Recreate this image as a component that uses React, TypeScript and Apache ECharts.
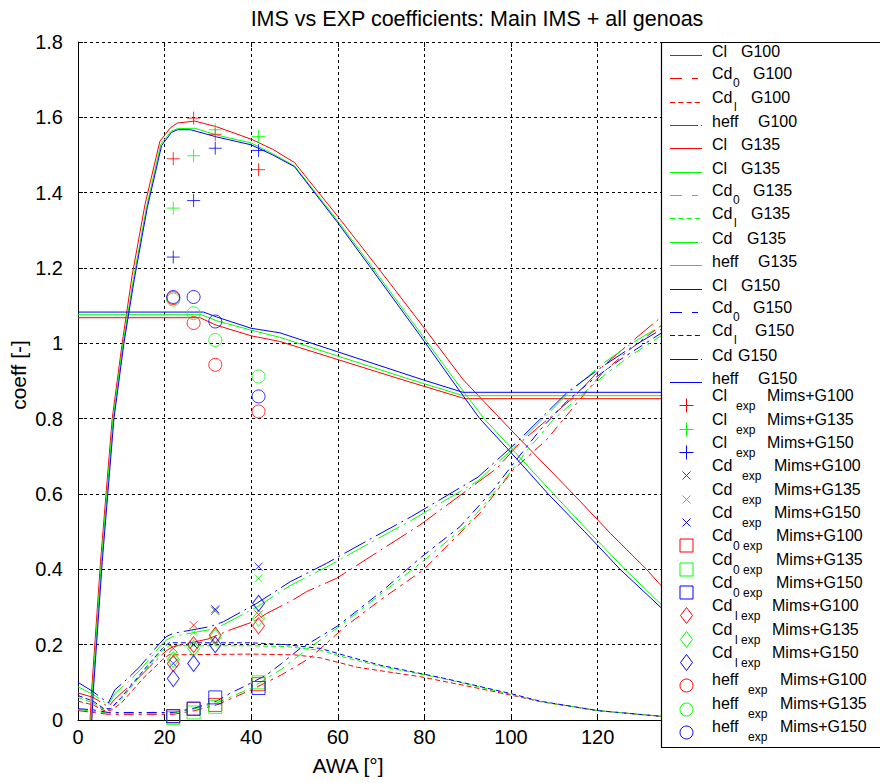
import React, { useEffect, useRef } from "react";
import * as echarts from "echarts";

type P = [number, number][];

const RED = "#ff0000";
const GREEN = "#00ff00";
const BLUE = "#0000ff";
const FONT = '"Liberation Sans", Arial, Helvetica, sans-serif';

const TITLE = "IMS vs EXP coefficients: Main IMS + all genoas";
const X_NAME = "AWA [°]";
const Y_NAME = "coeff [-]";
const xTicks = [0, 20, 40, 60, 80, 100, 120, 140, 160, 180];
const xVisibleMax = 120; // labels beyond this lie under the legend box
const yTicks = [0, 0.2, 0.4, 0.6, 0.8, 1, 1.2, 1.4, 1.6, 1.8];

// ---- IMS model curves ----
const clG100: P = [[2.8,0],[3.1,0.07],[5.2,0.42],[7.9,0.8],[10.2,1.0],[12.5,1.18],[15.5,1.37],[18.9,1.536],[21.3,1.572],[23,1.585],[27,1.59],[32,1.575],[40,1.542],[45,1.515],[50,1.48],[60,1.337],[70,1.19],[80,1.04],[89,0.903],[100,0.77],[115.2,0.59],[123,0.495],[131.3,0.4],[134.4,0.36],[142,0.27]];
const clG135: P = [[3.0,0],[3.3,0.07],[5.4,0.42],[8.1,0.8],[10.4,1.0],[12.8,1.17],[15.8,1.36],[19.1,1.528],[21.5,1.563],[23,1.57],[27,1.571],[32,1.553],[40,1.532],[45,1.503],[50,1.471],[60,1.325],[70,1.17],[80,1.013],[87,0.903],[93.8,0.8],[101,0.71],[109.8,0.6],[118,0.5],[126.3,0.4],[134.4,0.31],[142,0.235]];
const clG150: P = [[3.2,0],[3.5,0.07],[5.6,0.42],[8.3,0.8],[10.6,1.0],[13,1.17],[16,1.36],[19.3,1.525],[21.6,1.56],[23,1.567],[26,1.567],[32,1.548],[40,1.527],[45,1.5],[50,1.469],[60,1.32],[70,1.163],[80,1.005],[86.3,0.903],[92.8,0.8],[100,0.71],[108.6,0.6],[117,0.5],[125.2,0.4],[134.4,0.301],[142,0.225]];

const heffG100: P = [[0,1.068],[28.2,1.068],[32,1.048],[40,1.02],[46.6,1.005],[75,0.903],[89.4,0.853],[142,0.853]];
const heffG135: P = [[0,1.076],[28.5,1.076],[32,1.06],[40,1.035],[46.6,1.016],[77,0.903],[89,0.861],[142,0.861]];
const heffG150: P = [[0,1.083],[29,1.083],[32,1.07],[40,1.04],[46.6,1.028],[79.7,0.903],[88.9,0.87],[142,0.87]];

const cd0G100: P = [[0,0.025],[7,0.015],[22,0.015],[27,0.025],[32,0.04],[40,0.08],[47,0.12],[53.6,0.165],[61.7,0.248],[70,0.32],[79.7,0.398],[92.8,0.549],[100.5,0.664],[108.2,0.744],[115.2,0.841],[121,0.92],[127,0.98],[134.4,1.045],[142,1.1]];
const cd0G135: P = [[0,0.028],[7,0.018],[22,0.018],[27,0.03],[32,0.045],[40,0.085],[47,0.135],[52,0.18],[60,0.245],[70,0.335],[79.5,0.42],[90,0.52],[98,0.63],[104,0.72],[110,0.8],[116,0.86],[122,0.92],[128,0.97],[134.4,1.018],[142,1.07]];
const cd0G150: P = [[0,0.03],[3.5,0.027],[7,0.02],[22,0.02],[27,0.032],[32,0.05],[35,0.07],[38.2,0.088],[43.6,0.12],[47,0.15],[51.3,0.19],[55,0.215],[60,0.25],[65,0.295],[70.5,0.345],[79,0.43],[88.2,0.513],[95.9,0.611],[100.5,0.68],[106.7,0.77],[112.8,0.845],[119,0.905],[125,0.955],[129,0.985],[134.4,1.025],[142,1.075]];

const cdlG100: P = [[0,0.05],[3.5,0.04],[6,0.025],[7.5,0.025],[10,0.045],[15,0.11],[19.5,0.16],[21,0.173],[40,0.175],[50,0.173],[56,0.165],[64.5,0.14],[79,0.115],[90,0.09],[100,0.066],[106.7,0.049],[120,0.025],[134.4,0.01],[142,0.005]];
const cdlG135: P = [[0,0.06],[3.5,0.045],[6,0.028],[7.5,0.028],[10,0.055],[15,0.125],[19.5,0.185],[21,0.197],[40,0.197],[48,0.195],[56,0.185],[62,0.165],[70,0.142],[84.4,0.11],[100,0.068],[106.7,0.049],[120,0.025],[134.4,0.01],[142,0.005]];
const cdlG150: P = [[0,0.065],[3.5,0.05],[6,0.03],[7.5,0.03],[10,0.06],[15,0.13],[19.5,0.19],[21,0.205],[40,0.205],[48,0.2],[56,0.19],[62,0.17],[70,0.145],[84.4,0.111],[100,0.07],[106.7,0.05],[120,0.025],[134.4,0.01],[142,0.005]];

const cdG100: P = [[0,0.072],[3.5,0.06],[7,0.035],[8.5,0.055],[11.6,0.088],[14.3,0.115],[16.6,0.142],[18.9,0.168],[20.5,0.185],[22,0.195],[30,0.215],[35.1,0.239],[40.5,0.261],[43.6,0.283],[49.7,0.319],[52.8,0.341],[59.7,0.376],[79,0.518],[96.7,0.668],[102,0.735],[114.8,0.86],[121.3,0.94],[127.9,1.005],[134.4,1.067],[142,1.13]];
const cdG135: P = [[0,0.088],[3.5,0.068],[7,0.04],[8.5,0.07],[11.5,0.1],[14.3,0.132],[18.9,0.195],[20.5,0.213],[22,0.222],[30.5,0.24],[33.6,0.253],[41.3,0.3],[49,0.357],[57.4,0.406],[68.2,0.475],[77,0.53],[92.4,0.635],[101.3,0.73],[113,0.865],[121.3,0.947],[127.9,1.0],[134.4,1.045],[142,1.09]];
const cdG150: P = [[0,0.1],[3.5,0.075],[7,0.045],[8.5,0.08],[11.5,0.11],[14.3,0.142],[18.9,0.204],[20.5,0.222],[22,0.23],[30.5,0.248],[33.6,0.261],[41.3,0.31],[49,0.367],[57.4,0.416],[68.2,0.485],[77,0.54],[92.4,0.645],[101.3,0.737],[113,0.87],[121.3,0.94],[127.9,0.99],[134.4,1.035],[142,1.08]];

// ---- experimental points ----
const expAwa = [22.0, 26.7, 31.7, 41.7];
const clExpG100 = [1.49, 1.598, 1.555, 1.461];
const clExpG135 = [1.359, 1.498, 1.567, 1.549];
const clExpG150 = [1.229, 1.379, 1.518, 1.512];
const cdExpG100 = [0.19, 0.252, 0.29, 0.28];
const cdExpG135 = [0.17, 0.233, 0.29, 0.376];
const cdExpG150 = [0.15, 0.2, 0.294, 0.407];
const cd0ExpG100 = [0.01, 0.03, 0.04, 0.095];
const cd0ExpG135 = [0.005, 0.02, 0.035, 0.1];
const cd0ExpG150 = [0.01, 0.03, 0.06, 0.085];
const cdlExpG100 = [0.15, 0.2, 0.225, 0.25];
const cdlExpG135 = [0.16, 0.19, 0.22, 0.27];
const cdlExpG150 = [0.11, 0.15, 0.2, 0.31];
const heffExpG100 = [1.12, 1.054, 0.943, 0.819];
const heffExpG135 = [1.116, 1.08, 1.009, 0.912];
const heffExpG150 = [1.123, 1.123, 1.058, 0.859];

// line dash styles
const DASH_CD0 = [10, 5, 3, 5];
const DASH_CDL = [5, 3];
const DASH_CD = [24, 5, 2, 5];

const PLUS = "path://M6,0L6,12M0,6L12,6";
const CROSS = "path://M0,0L8,8M8,0L0,8";

function lineS(name: string, data: P, color: string, dash: any) {
  return {
    type: "line",
    name,
    data,
    symbol: "none",
    showSymbol: false,
    silent: true,
    lineStyle: { color, width: 1, type: dash },
    itemStyle: { color },
    z: 2,
  };
}

function scat(name: string, vals: number[], color: string, symbol: string, size: any) {
  return {
    type: "scatter",
    name,
    data: expAwa.map((x, i) => [x, vals[i]]),
    symbol,
    symbolSize: size,
    silent: true,
    itemStyle: { color: "rgba(0,0,0,0)", borderColor: color, borderWidth: 1 },
    z: 3,
  };
}

type LegLine = { main: string; sub: string; subX: number; tail: string; tailX: number; color: string; dash: any };
const legendLines: LegLine[] = [
  { main: "Cl", sub: "", subX: 0, tail: "G100", tailX: 741, color: RED, dash: null },
  { main: "Cd", sub: "0", subX: 733, tail: "G100", tailX: 753, color: RED, dash: [12, 10, 6, 10] },
  { main: "Cd", sub: "l", subX: 734, tail: "G100", tailX: 751, color: RED, dash: [5, 3.3] },
  { main: "heff", sub: "", subX: 0, tail: "G100", tailX: 758, color: RED, dash: [28, 3, 1.5, 3] },
  { main: "Cl", sub: "", subX: 0, tail: "G135", tailX: 741, color: RED, dash: null },
  { main: "Cl", sub: "", subX: 0, tail: "G135", tailX: 741, color: GREEN, dash: null },
  { main: "Cd", sub: "0", subX: 733, tail: "G135", tailX: 753, color: GREEN, dash: [12, 10, 6, 10] },
  { main: "Cd", sub: "l", subX: 734, tail: "G135", tailX: 751, color: GREEN, dash: [5, 3.3] },
  { main: "Cd", sub: "", subX: 0, tail: "G135", tailX: 747, color: GREEN, dash: [28, 3, 1.5, 3] },
  { main: "heff", sub: "", subX: 0, tail: "G135", tailX: 758, color: GREEN, dash: null },
  { main: "Cl", sub: "", subX: 0, tail: "G150", tailX: 741, color: BLUE, dash: null },
  { main: "Cd", sub: "0", subX: 733, tail: "G150", tailX: 753, color: BLUE, dash: [12, 10, 6, 10] },
  { main: "Cd", sub: "l", subX: 734, tail: "G150", tailX: 755, color: BLUE, dash: [5, 3.3] },
  { main: "Cd", sub: "", subX: 0, tail: "G150", tailX: 738, color: BLUE, dash: [28, 3, 1.5, 3] },
  { main: "heff", sub: "", subX: 0, tail: "G150", tailX: 758, color: BLUE, dash: null },
];

type LegMark = { main: string; sub: string; subX: number; tail: string; tailX: number; color: string; mark: string };
const legendMarks: LegMark[] = [
  { main: "Cl", sub: "exp", subX: 736, tail: "Mims+G100", tailX: 767, color: RED, mark: "plus" },
  { main: "Cl", sub: "exp", subX: 736, tail: "Mims+G135", tailX: 767, color: GREEN, mark: "plus" },
  { main: "Cl", sub: "exp", subX: 736, tail: "Mims+G150", tailX: 767, color: BLUE, mark: "plus" },
  { main: "Cd", sub: "exp", subX: 742, tail: "Mims+G100", tailX: 774, color: RED, mark: "cross" },
  { main: "Cd", sub: "exp", subX: 742, tail: "Mims+G135", tailX: 774, color: GREEN, mark: "cross" },
  { main: "Cd", sub: "exp", subX: 742, tail: "Mims+G150", tailX: 774, color: BLUE, mark: "cross" },
  { main: "Cd", sub: "0 exp", subX: 733, tail: "Mims+G100", tailX: 776, color: RED, mark: "square" },
  { main: "Cd", sub: "0 exp", subX: 733, tail: "Mims+G135", tailX: 776, color: GREEN, mark: "square" },
  { main: "Cd", sub: "0 exp", subX: 733, tail: "Mims+G150", tailX: 776, color: BLUE, mark: "square" },
  { main: "Cd", sub: "l exp", subX: 735, tail: "Mims+G100", tailX: 772, color: RED, mark: "diamond" },
  { main: "Cd", sub: "l exp", subX: 735, tail: "Mims+G135", tailX: 772, color: GREEN, mark: "diamond" },
  { main: "Cd", sub: "l exp", subX: 735, tail: "Mims+G150", tailX: 772, color: BLUE, mark: "diamond" },
  { main: "heff", sub: "exp", subX: 748, tail: "Mims+G100", tailX: 780, color: RED, mark: "circle" },
  { main: "heff", sub: "exp", subX: 748, tail: "Mims+G135", tailX: 780, color: GREEN, mark: "circle" },
  { main: "heff", sub: "exp", subX: 748, tail: "Mims+G150", tailX: 780, color: BLUE, mark: "circle" },
];

function txt(text: string, x: number, y: number, size: number, align = "left") {
  return {
    type: "text",
    z: 101,
    silent: true,
    style: { text, x, y, fill: "#000", font: `${size}px ${FONT}`, align, verticalAlign: "middle" },
  };
}

function buildLegend() {
  const els: any[] = [];
  els.push({
    type: "rect",
    z: 100,
    silent: true,
    shape: { x: 661.5, y: 42.5, width: 240, height: 705 },
    style: { fill: "#fff", stroke: "#000", lineWidth: 1.2 },
  });
  const ROW0 = 55;
  const DY = 23.35;
  legendLines.forEach((e, i) => {
    const y = Math.round(ROW0 + i * DY) + 0.5;
    els.push({
      type: "line",
      z: 101,
      silent: true,
      shape: { x1: 670, y1: y, x2: 702, y2: y },
      style: { stroke: e.color, lineWidth: 1, lineDash: e.dash || undefined },
    });
    const off = e.sub ? -5 : -4;
    els.push(txt(e.main, 712, y + off, 16));
    if (e.sub) els.push(txt(e.sub, e.subX, y + 4, 12));
    els.push(txt(e.tail, e.tailX, y + off, 16));
  });
  legendMarks.forEach((e, j) => {
    const i = j + legendLines.length;
    const y = Math.round(ROW0 + i * DY) + 0.5;
    const cx = 686.5;
    const st = { stroke: e.color, lineWidth: 1, fill: "none" };
    if (e.mark === "plus") {
      els.push({ type: "line", z: 101, silent: true, shape: { x1: cx - 7, y1: y, x2: cx + 7, y2: y }, style: st });
      els.push({ type: "line", z: 101, silent: true, shape: { x1: cx, y1: y - 7, x2: cx, y2: y + 7 }, style: st });
    } else if (e.mark === "cross") {
      els.push({ type: "line", z: 101, silent: true, shape: { x1: cx - 4, y1: y - 4, x2: cx + 4, y2: y + 4 }, style: st });
      els.push({ type: "line", z: 101, silent: true, shape: { x1: cx - 4, y1: y + 4, x2: cx + 4, y2: y - 4 }, style: st });
    } else if (e.mark === "square") {
      els.push({ type: "rect", z: 101, silent: true, shape: { x: cx - 6.5, y: y - 6.5, width: 13, height: 13 }, style: st });
    } else if (e.mark === "diamond") {
      els.push({ type: "polygon", z: 101, silent: true, shape: { points: [[cx, y - 8], [cx + 6, y], [cx, y + 8], [cx - 6, y]] }, style: st });
    } else {
      els.push({ type: "circle", z: 101, silent: true, shape: { cx, cy: y, r: 6.5 }, style: st });
    }
    const isHeff = e.main === "heff";
    const off = isHeff ? -6 : -10;
    const subOff = isHeff ? 4 : 0;
    els.push(txt(e.main, 712, y + off, 16));
    els.push(txt(e.sub, e.subX, y + subOff, 12));
    els.push(txt(e.tail, e.tailX, y + off, 16));
  });
  return els;
}

export default function App() {
  const ref = useRef<HTMLDivElement>(null);
  useEffect(() => {
    const chart = echarts.init(ref.current!, null, { renderer: "svg" });
    const axisCommon = {
      axisLine: { show: true, lineStyle: { color: "#000", width: 1 } },
      axisTick: { show: true, inside: true, length: 5, lineStyle: { color: "#000" } },
      axisLabel: { color: "#000", fontSize: 20, fontFamily: FONT },
      splitLine: { show: true, lineStyle: { color: "#000", type: [3, 3], width: 1 } },
    };
    const option: any = {
      animation: false,
      backgroundColor: "#fff",
      grid: { left: 78, top: 42, width: 779.4, height: 678, containLabel: false },
      xAxis: [
        {
          type: "value",
          min: xTicks[0],
          max: xTicks[xTicks.length - 1],
          interval: 20,
          ...axisCommon,
          axisLabel: {
            ...axisCommon.axisLabel,
            margin: 7,
            formatter: (v: number) => (v <= xVisibleMax ? String(v) : ""),
          },
        },
        {
          type: "value",
          position: "top",
          min: xTicks[0],
          max: xTicks[xTicks.length - 1],
          interval: 20,
          axisLine: { show: false },
          axisTick: { show: true, inside: true, length: 5, lineStyle: { color: "#000" } },
          axisLabel: { show: false },
          splitLine: { show: false },
        },
      ],
      yAxis: [
        {
          type: "value",
          min: yTicks[0],
          max: yTicks[yTicks.length - 1],
          interval: 0.2,
          ...axisCommon,
          axisLabel: { ...axisCommon.axisLabel, margin: 15 },
        },
      ],
      series: [
        lineS("Cl G100", clG100, RED, "solid"),
        lineS("Cd0 G100", cd0G100, RED, DASH_CD0),
        lineS("Cdl G100", cdlG100, RED, DASH_CDL),
        lineS("Cd G100", cdG100, RED, DASH_CD),
        lineS("heff G100", heffG100, RED, "solid"),
        lineS("Cl G135", clG135, GREEN, "solid"),
        lineS("Cd0 G135", cd0G135, GREEN, DASH_CD0),
        lineS("Cdl G135", cdlG135, GREEN, DASH_CDL),
        lineS("Cd G135", cdG135, GREEN, DASH_CD),
        lineS("heff G135", heffG135, GREEN, "solid"),
        lineS("Cl G150", clG150, BLUE, "solid"),
        lineS("Cd0 G150", cd0G150, BLUE, DASH_CD0),
        lineS("Cdl G150", cdlG150, BLUE, DASH_CDL),
        lineS("Cd G150", cdG150, BLUE, DASH_CD),
        lineS("heff G150", heffG150, BLUE, "solid"),
        scat("Cl exp Mims+G100", clExpG100, RED, PLUS, 13),
        scat("Cl exp Mims+G135", clExpG135, GREEN, PLUS, 13),
        scat("Cl exp Mims+G150", clExpG150, BLUE, PLUS, 13),
        scat("Cd exp Mims+G100", cdExpG100, RED, CROSS, 8),
        scat("Cd exp Mims+G135", cdExpG135, GREEN, CROSS, 8),
        scat("Cd exp Mims+G150", cdExpG150, BLUE, CROSS, 8),
        scat("Cd0 exp Mims+G100", cd0ExpG100, RED, "rect", 13),
        scat("Cd0 exp Mims+G135", cd0ExpG135, GREEN, "rect", 13),
        scat("Cd0 exp Mims+G150", cd0ExpG150, BLUE, "rect", 13),
        scat("Cdl exp Mims+G100", cdlExpG100, RED, "diamond", [12, 16]),
        scat("Cdl exp Mims+G135", cdlExpG135, GREEN, "diamond", [12, 16]),
        scat("Cdl exp Mims+G150", cdlExpG150, BLUE, "diamond", [12, 16]),
        scat("heff exp Mims+G100", heffExpG100, RED, "circle", 13),
        scat("heff exp Mims+G135", heffExpG135, GREEN, "circle", 13),
        scat("heff exp Mims+G150", heffExpG150, BLUE, "circle", 13),
      ],
      graphic: [
        txt(TITLE, 477, 19, 21.5, "center"),
        txt(X_NAME, 348, 765, 21, "center"),
        {
          type: "text",
          z: 101,
          silent: true,
          x: 18,
          y: 375,
          rotation: Math.PI / 2,
          style: { text: Y_NAME, x: 0, y: 0, fill: "#000", font: `21px ${FONT}`, align: "center", verticalAlign: "middle" },
        },
        ...buildLegend(),
      ],
    };
    chart.setOption(option);
    return () => chart.dispose();
  }, []);
  return (
    <div
      ref={ref}
      style={{ position: "fixed", left: 0, top: 0, width: 880, height: 783, background: "#fff" }}
    />
  );
}
